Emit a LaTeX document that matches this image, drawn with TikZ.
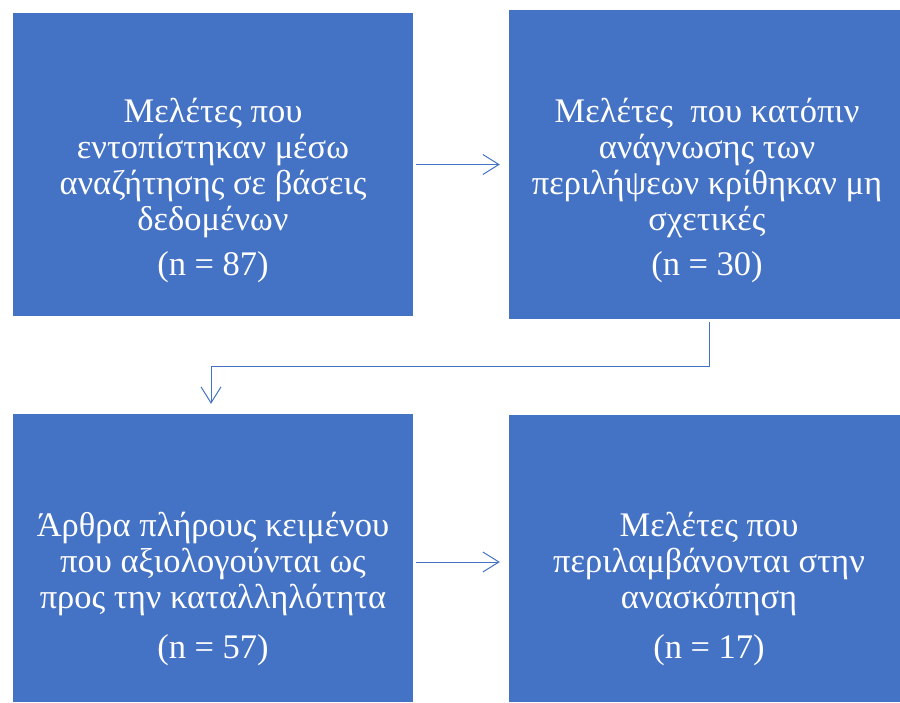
\documentclass[tikz,border=0pt]{standalone}
\usepackage{fontspec}
\setmainfont{Liberation Serif}
\usepackage{xcolor}
\usepackage{tikz}
\usetikzlibrary{arrows.meta,positioning}
\definecolor{boxblue}{HTML}{4472C4}

\begin{document}
\begin{tikzpicture}[
    x=1pt, y=-1pt,
    box/.style={rectangle, fill=boxblue, draw=none, inner sep=0pt},
    txt/.style={anchor=north, align=center, text=white, inner sep=0pt,
      font=\fontsize{34.5}{36}\selectfont},
    link/.style={draw=boxblue, line width=1pt, -{Straight Barb[length=16pt, width=20pt]}}
  ]
    \useasboundingbox (0,0) rectangle (900,702);
    \node[box, minimum width=400pt, minimum height=303pt] (tl) at (213,164.5) {};
    \node[box, minimum width=391pt, minimum height=309pt] (tr) at (704.5,164.5) {};
    \node[box, minimum width=400pt, minimum height=288pt] (bl) at (213,558) {};
    \node[box, minimum width=391pt, minimum height=287pt] (br) at (704.5,558.5) {};
    \node[txt] (tltext) at (213,97.5) {\strut Μελέτες που\\εντοπίστηκαν μέσω\\αναζήτησης σε βάσεις\\δεδομένων\\[9pt](n = 87)};
    \node[txt] (trtext) at (707,97.5) {\strut Μελέτες~ που κατόπιν\\ανάγνωσης των\\περιλήψεων κρίθηκαν μη\\σχετικές\\[9pt](n = 30)};
    \node[txt] (bltext) at (213,511.5) {\strut Άρθρα πλήρους κειμένου\\που αξιολογούνται ως\\προς την καταλληλότητα\\[14pt](n = 57)};
    \node[txt] (brtext) at (709,511.5) {\strut Μελέτες που\\περιλαμβάνονται στην\\ανασκόπηση\\[14pt](n = 17)};
    % arrows between the steps
    \draw[link, shorten <=3pt, shorten >=9pt] (tl.east) -- (tl.east -| tr.west);
    \draw[link, shorten <=3pt, shorten >=10pt] ([xshift=4.5pt]tr.south) -- ++(0,47) -| ([xshift=-2pt]bl.north);
    \draw[link, shorten <=3pt, shorten >=9pt] ([yshift=-4pt]bl.east) -- ([yshift=-4pt]bl.east -| br.west);
\end{tikzpicture}
\end{document}
